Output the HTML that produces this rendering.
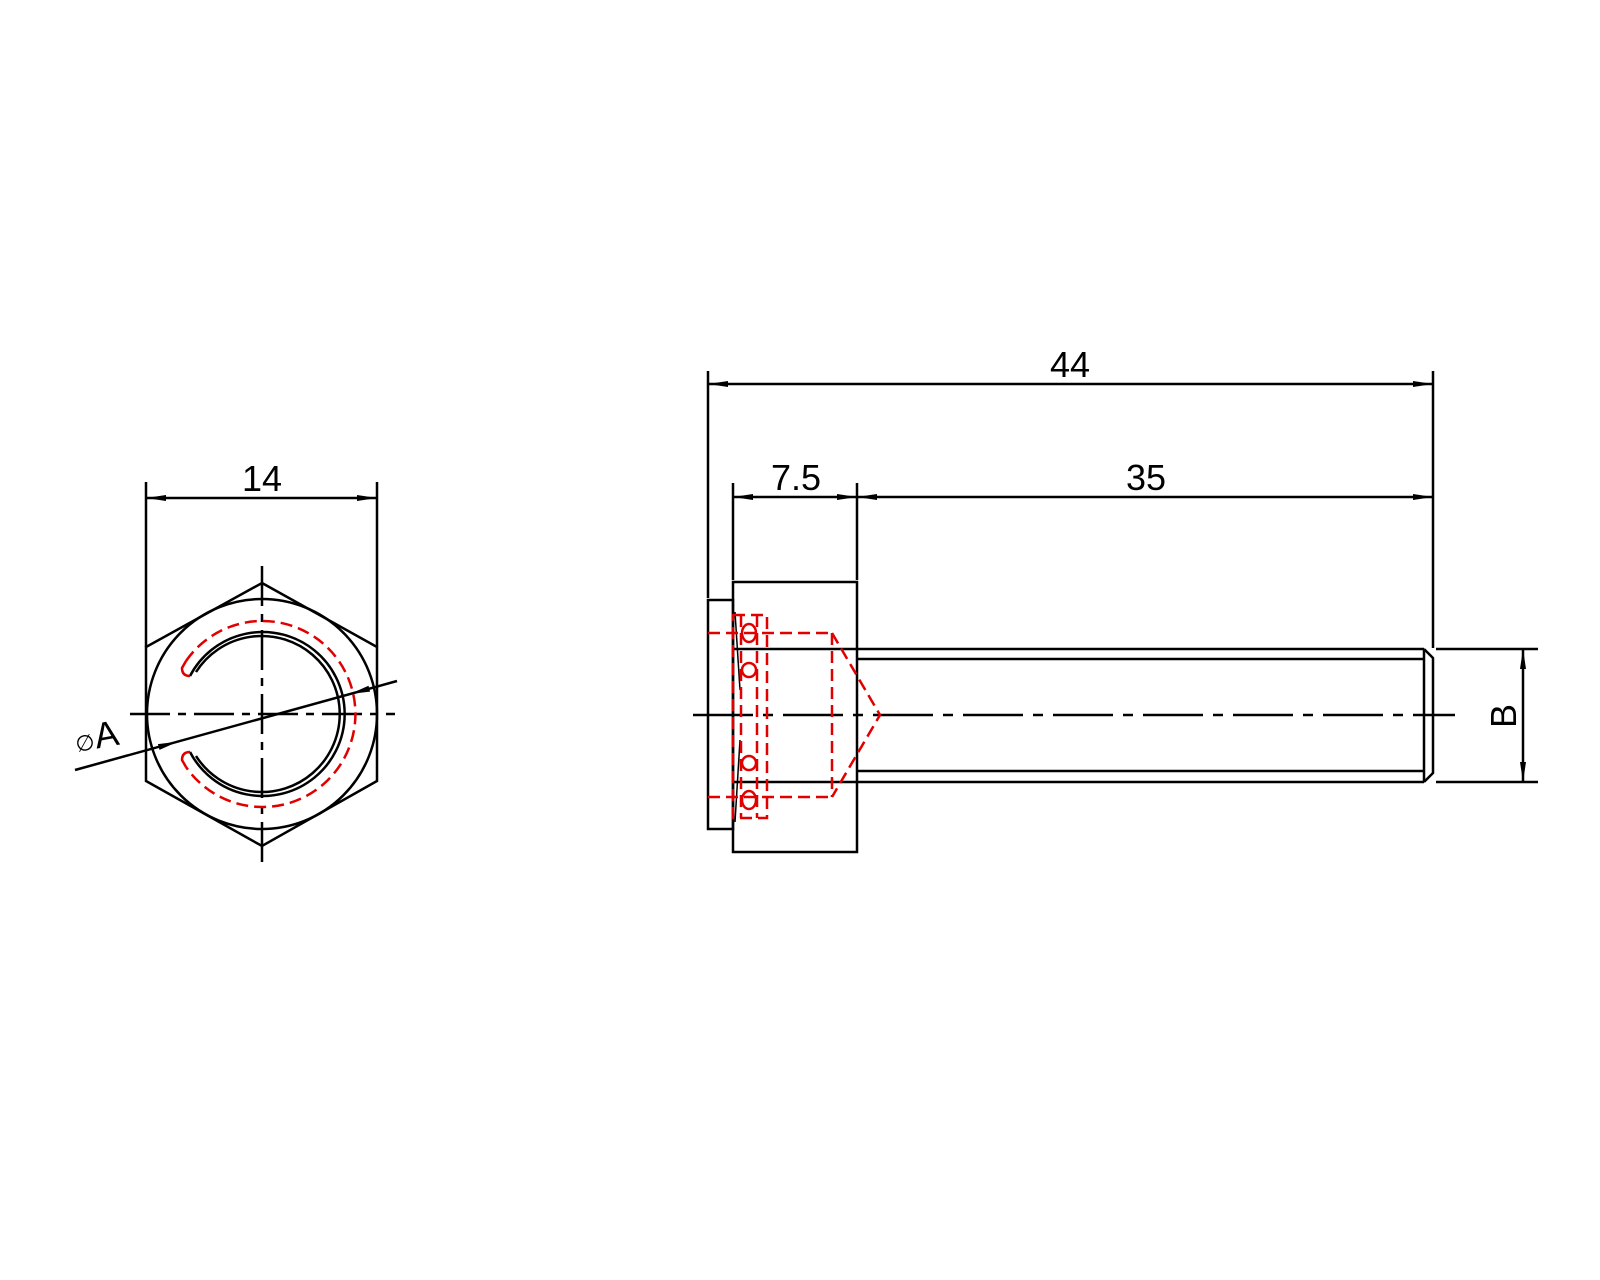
<!DOCTYPE html>
<html><head><meta charset="utf-8"><style>
html,body{margin:0;padding:0;background:#fff;}
svg{display:block;}
text{font-family:"Liberation Sans",sans-serif;fill:#000;}
</style></head><body>
<svg width="1600" height="1280" viewBox="0 0 1600 1280" xmlns="http://www.w3.org/2000/svg">
<defs>
<marker id="ar" viewBox="0 0 20 6" refX="20" refY="3" markerWidth="20" markerHeight="6" markerUnits="userSpaceOnUse" orient="auto-start-reverse">
<path d="M0,0 L20,3 L0,6 Z" fill="#000"/>
</marker>
</defs>
<rect width="1600" height="1280" fill="#fff"/>
<g stroke="#000" stroke-width="2.5" fill="none">
<polygon points="262,583 377,647 377,781 262,846 146,781 146,647"/>
<circle cx="262" cy="714" r="115"/>
<path d="M 190,676 A 82 82 0 1 1 190,752"/>
<path d="M 196,672 A 78 78 0 1 1 196,756"/>
<line x1="146" y1="482" x2="146" y2="647"/>
<line x1="377" y1="482" x2="377" y2="647"/>
<line x1="146" y1="498" x2="377" y2="498" marker-start="url(#ar)" marker-end="url(#ar)"/>
<line x1="130" y1="714" x2="395" y2="714" stroke-dasharray="40,8,8,8"/>
<line x1="262" y1="566" x2="262" y2="870" stroke-dasharray="40,8,8,8"/>
<line x1="75" y1="770" x2="397" y2="681"/>
<path d="M159.5,749.9 L178,741.6 L157.9,744.1 Z" fill="#000" stroke="none"/>
<path d="M370.1,691.6 L350,694 L368.5,685.8 Z" fill="#000" stroke="none"/>

<rect x="708" y="600" width="25" height="229"/>
<rect x="733" y="582" width="124" height="270"/>
<line x1="733" y1="649" x2="1424" y2="649"/>
<line x1="733" y1="782" x2="1424" y2="782"/>
<line x1="857" y1="659" x2="1424" y2="659"/>
<line x1="857" y1="771" x2="1424" y2="771"/>
<line x1="1424" y1="649" x2="1424" y2="782"/>
<polyline points="1424,649 1433,658 1433,773 1424,782"/>
<line x1="735" y1="612" x2="740" y2="690" stroke-width="1.5"/>
<line x1="740" y1="740" x2="735" y2="822" stroke-width="1.5"/>
<line x1="693" y1="715" x2="1455" y2="715" stroke-dasharray="60,10,10,10"/>
<line x1="708" y1="371" x2="708" y2="598"/>
<line x1="733" y1="483" x2="733" y2="580"/>
<line x1="857" y1="483" x2="857" y2="580"/>
<line x1="1433" y1="371" x2="1433" y2="648"/>
<line x1="708" y1="384" x2="1433" y2="384" marker-start="url(#ar)" marker-end="url(#ar)"/>
<line x1="733" y1="497" x2="857" y2="497" marker-start="url(#ar)" marker-end="url(#ar)"/>
<line x1="857" y1="497" x2="1433" y2="497" marker-start="url(#ar)" marker-end="url(#ar)"/>
<line x1="1436" y1="649" x2="1538" y2="649"/>
<line x1="1436" y1="782" x2="1538" y2="782"/>
<line x1="1523" y1="649" x2="1523" y2="782" marker-start="url(#ar)" marker-end="url(#ar)"/>
</g>
<g stroke="#e00000" stroke-width="2.5" fill="none" stroke-dasharray="12,6">
<path d="M 186,661 A 93 93 0 1 1 186,767"/>
<path d="M 186,661 L 182,668 Q 182,676 190,676" stroke-dasharray="none"/>
<path d="M 186,767 L 182,760 Q 182,752 190,752" stroke-dasharray="none"/>
<rect x="733" y="615" width="34" height="203"/>
<line x1="741" y1="615" x2="741" y2="818"/>
<line x1="757" y1="615" x2="757" y2="818"/>
<line x1="708" y1="633" x2="832" y2="633"/>
<line x1="708" y1="797" x2="832" y2="797"/>
<line x1="832" y1="633" x2="832" y2="797"/>
<polyline points="832,633 880,715 832,797"/>
</g>
<g stroke="#e00000" stroke-width="2.5" fill="none">
<ellipse cx="749" cy="633" rx="7" ry="9"/>
<ellipse cx="749" cy="670" rx="7" ry="7"/>
<ellipse cx="749" cy="763" rx="7" ry="7"/>
<ellipse cx="749" cy="800" rx="7" ry="9"/>
</g>
<text x="262" y="491" font-size="36" text-anchor="middle">14</text>
<text x="1070" y="377" font-size="36" text-anchor="middle">44</text>
<text x="796" y="490" font-size="36" text-anchor="middle">7.5</text>
<text x="1146" y="490" font-size="36" text-anchor="middle">35</text>
<text transform="translate(1516,716) rotate(-90)" font-size="36" text-anchor="middle">B</text>
<g transform="rotate(-10 100 745)">
<text x="76" y="748" font-size="22">∅</text>
<text x="96" y="748" font-size="36">A</text>
</g>
</svg>
</body></html>
